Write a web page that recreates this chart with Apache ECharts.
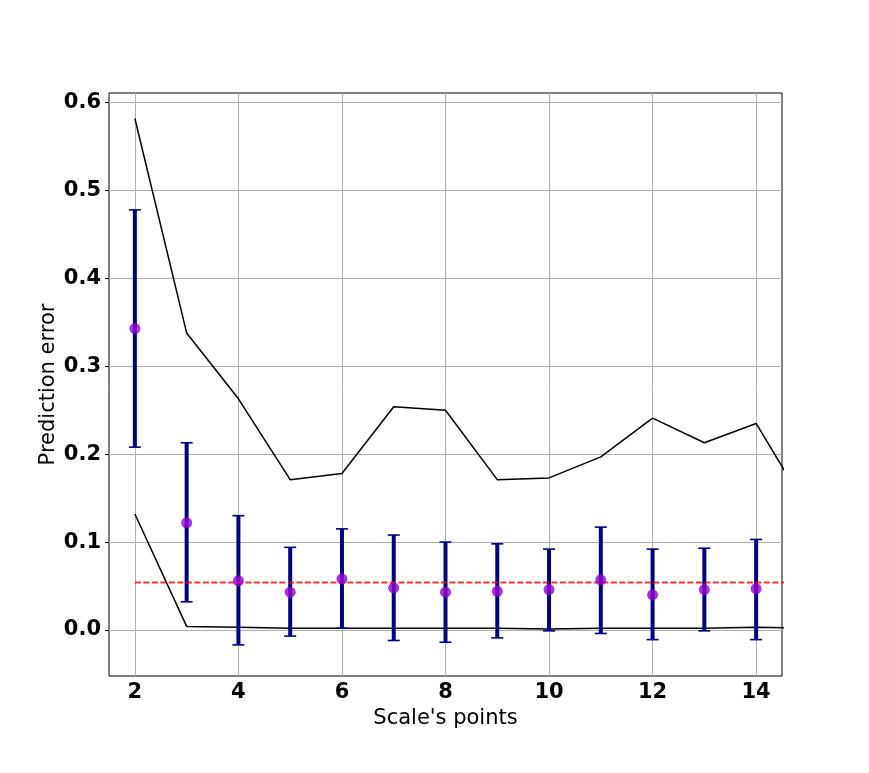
<!DOCTYPE html>
<html>
<head>
<meta charset="utf-8">
<script src="https://cdn.jsdelivr.net/npm/echarts@6/dist/echarts.min.js"></script>
<style>html,body{margin:0;padding:0;background:#fff;}#c{width:869px;height:773px;}</style>
</head>
<body>
<div id="c"></div>
<script>
const scalePoints = [2, 3, 4, 5, 6, 7, 8, 9, 10, 11, 12, 13, 14];
const meanError   = [0.343, 0.122, 0.056, 0.043, 0.058, 0.048, 0.043, 0.044, 0.046, 0.057, 0.040, 0.046, 0.047];
const errLower    = [0.208, 0.032, -0.017, -0.007, 0.002, -0.012, -0.014, -0.009, -0.001, -0.004, -0.011, -0.001, -0.011];
const errUpper    = [0.478, 0.213, 0.130, 0.094, 0.115, 0.108, 0.100, 0.098, 0.092, 0.117, 0.092, 0.093, 0.103];
const linePoints  = [2, 3, 4, 5, 6, 7, 8, 9, 10, 11, 12, 13, 14, 15];
const maxError    = [0.582, 0.338, 0.263, 0.171, 0.178, 0.254, 0.250, 0.171, 0.173, 0.197, 0.241, 0.213, 0.235, 0.137];
const minError    = [0.132, 0.004, 0.003, 0.002, 0.002, 0.002, 0.002, 0.002, 0.001, 0.002, 0.002, 0.002, 0.003, 0.002];
const refLevel    = 0.054;
const refSpan     = [2, 15];
const xTicks      = [2, 4, 6, 8, 10, 12, 14];
const yTicks      = [0.0, 0.1, 0.2, 0.3, 0.4, 0.5, 0.6];

const chart = echarts.init(document.getElementById('c'));
const font = 'DejaVu Sans';
chart.setOption({
  animation: false,
  backgroundColor: '#fff',
  grid: { left: 109, top: 93, right: 87, bottom: 97, show: true, borderColor: '#000', borderWidth: 1, backgroundColor: 'transparent' },
  xAxis: {
    type: 'value', min: 1.5, max: 14.5,
    name: "Scale's points", nameLocation: 'middle', nameGap: 32, nameMoveOverlap: false,
    nameTextStyle: { fontFamily: font, fontSize: 21, color: '#000' },
    axisLine: { show: false },
    axisTick: { show: false, customValues: xTicks },
    axisLabel: { customValues: xTicks, fontFamily: font, fontSize: 21, fontWeight: 'bold', color: '#000', margin: 6, formatter: v => String(v) },
    splitLine: { show: true, lineStyle: { color: '#b0b0b0', width: 1 } }
  },
  yAxis: {
    type: 'value', min: -0.0524, max: 0.611,
    name: 'Prediction error', nameLocation: 'middle', nameGap: 50, nameRotate: 90, nameMoveOverlap: false,
    nameTextStyle: { fontFamily: font, fontSize: 21, color: '#000' },
    axisLine: { show: false },
    axisTick: { show: true, customValues: yTicks, length: 4, lineStyle: { color: '#000' } },
    axisLabel: { customValues: yTicks, fontFamily: font, fontSize: 21, fontWeight: 'bold', color: '#000', margin: 8, formatter: v => v.toFixed(1) },
    splitLine: { show: true, lineStyle: { color: '#b0b0b0', width: 1 } }
  },
  series: [
    {
      type: 'line', data: linePoints.map((x, i) => [x, maxError[i]]),
      symbol: 'none', lineStyle: { color: '#000', width: 1.5 }, clip: true, z: 2
    },
    {
      type: 'line', data: linePoints.map((x, i) => [x, minError[i]]),
      symbol: 'none', lineStyle: { color: '#000', width: 1.5 }, clip: true, z: 2
    },
    {
      type: 'custom',
      data: scalePoints.map((x, i) => [x, errLower[i], errUpper[i]]),
      clip: true, z: 3,
      renderItem: function (params, api) {
        const x = api.value(0);
        const lo = api.coord([x, api.value(1)]);
        const hi = api.coord([x, api.value(2)]);
        const cap = 6;
        const style = { stroke: '#00008b', lineWidth: 4 };
        const capStyle = { stroke: '#00008b', lineWidth: 1.6 };
        return {
          type: 'group',
          children: [
            { type: 'line', shape: { x1: lo[0], y1: lo[1], x2: hi[0], y2: hi[1] }, style: style },
            { type: 'line', shape: { x1: hi[0] - cap, y1: hi[1], x2: hi[0] + cap, y2: hi[1] }, style: capStyle },
            { type: 'line', shape: { x1: lo[0] - cap, y1: lo[1], x2: lo[0] + cap, y2: lo[1] }, style: capStyle }
          ]
        };
      }
    },
    {
      type: 'line', data: refSpan.map(x => [x, refLevel]),
      symbol: 'none', clip: true, z: 4,
      lineStyle: { color: 'rgba(255,0,0,0.8)', width: 1.8, type: [6, 2.5] }
    },
    {
      type: 'scatter', data: scalePoints.map((x, i) => [x, meanError[i]]),
      symbol: 'circle', symbolSize: 11, itemStyle: { color: '#9400d3' }, z: 5
    }
  ]
});
</script>
</body>
</html>
